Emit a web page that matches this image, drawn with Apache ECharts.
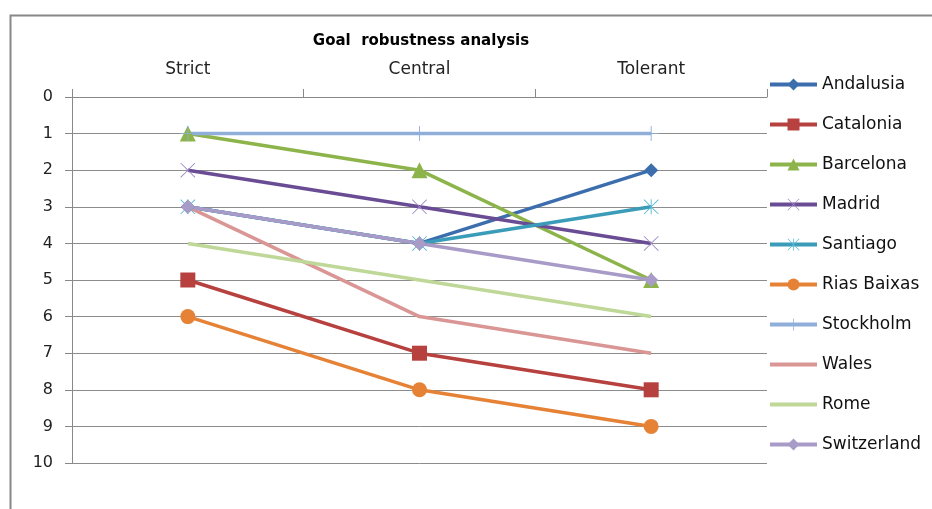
<!DOCTYPE html>
<html>
<head>
<meta charset="utf-8">
<script src="https://cdn.jsdelivr.net/npm/echarts@6/dist/echarts.min.js"></script>
<style>html,body{margin:0;padding:0;background:#fff}#c{width:932px;height:509px}</style>
</head>
<body>
<div id="c"></div>
<script>
var categories = ['Strict', 'Central', 'Tolerant'];
var yTicks = [0,1,2,3,4,5,6,7,8,9,10];
var andalusia = [3, 4, 2];
var catalonia = [5, 7, 8];
var barcelona = [1, 2, 5];
var madrid = [2, 3, 4];
var santiago = [3, 4, 3];
var riasBaixas = [6, 8, 9];
var stockholm = [1, 1, 1];
var wales = [3, 6, 7];
var rome = [4, 5, 6];
var switzerland = [3, 4, 5];

var PLUS = 'path://M47,0 L53,0 L53,47 L100,47 L100,53 L53,53 L53,100 L47,100 L47,53 L0,53 L0,47 L47,47 Z';
var CROSS = 'path://M0,4 L4,0 L50,46 L96,0 L100,4 L54,50 L100,96 L96,100 L50,54 L4,100 L0,96 L46,50 Z';
var STAR = 'path://M0,4 L4,0 L50,46 L96,0 L100,4 L54,50 L100,96 L96,100 L50,54 L4,100 L0,96 L46,50 Z M47,0 L53,0 L53,100 L47,100 Z';
var BAR = 'path://M0,0 L120,0 L120,10 L0,10 Z';

function s(name, data, color, symbol, size, markerColor) {
  return {
    name: name, type: 'line', data: data,
    symbol: symbol, symbolSize: size, showSymbol: symbol !== 'none',
    lineStyle: {color: color, width: 3.5},
    itemStyle: {color: markerColor || color},
    emphasis: {disabled: true},
    animation: false
  };
}

var chart = echarts.init(document.getElementById('c'));
chart.setOption({
  backgroundColor: '#fff',
  textStyle: {fontFamily: 'DejaVu Sans'},
  title: {
    text: 'Goal  robustness analysis', left: 416, top: 29, textAlign: 'center',
    textStyle: {fontSize: 15, fontWeight: 'bold', color: '#000', fontFamily: 'DejaVu Sans'}
  },
  graphic: [{
    type: 'rect', shape: {x: 10.5, y: 15.5, width: 1000, height: 600},
    style: {fill: 'none', stroke: '#888', lineWidth: 2}, silent: true, z: -1
  }],
  legend: {
    orient: 'vertical', left: 768, top: 76, padding: 0,
    itemWidth: 47, itemHeight: 15, itemGap: 23,
    lineStyle: {width: 4},
    textStyle: {fontSize: 17, color: '#111'},
    data: ['Andalusia','Catalonia','Barcelona','Madrid','Santiago','Rias Baixas','Stockholm',
      {name: 'Wales', icon: BAR}, {name: 'Rome', icon: BAR}, 'Switzerland']
  },
  grid: {left: 72, right: 165, top: 97, bottom: 46},
  xAxis: {
    type: 'category', position: 'top', data: categories, boundaryGap: true,
    axisLine: {lineStyle: {color: '#888', width: 1}},
    axisTick: {show: true, length: 8, lineStyle: {color: '#888'}},
    axisLabel: {fontSize: 17, color: '#222', margin: 19}
  },
  yAxis: {
    type: 'value', inverse: true, min: 0, max: 10, interval: 1,
    axisLine: {show: true, lineStyle: {color: '#888', width: 1}},
    axisTick: {show: true, length: 7, lineStyle: {color: '#888'}},
    axisLabel: {fontSize: 16, color: '#222', margin: 19,
      formatter: function (v) { return yTicks.indexOf(v) >= 0 ? String(v) : ''; }},
    splitLine: {show: true, lineStyle: {color: '#8c8c8c', width: 1}}
  },
  series: [
    s('Andalusia', andalusia, '#3C6EAD', 'diamond', 14),
    s('Catalonia', catalonia, '#B6413E', 'rect', 15),
    s('Barcelona', barcelona, '#8DB44A', 'triangle', 16),
    s('Madrid', madrid, '#6A4C94', CROSS, 15, '#9C87C2'),
    s('Santiago', santiago, '#3A9CB8', STAR, 15, '#55B8D4'),
    s('Rias Baixas', riasBaixas, '#E58236', 'circle', 15),
    s('Stockholm', stockholm, '#8FAEDA', PLUS, 15),
    s('Wales', wales, '#D99694', 'none', 0),
    s('Rome', rome, '#BFD898', 'none', 0),
    s('Switzerland', switzerland, '#A99BC8', 'diamond', 14)
  ]
});
</script>
</body>
</html>
